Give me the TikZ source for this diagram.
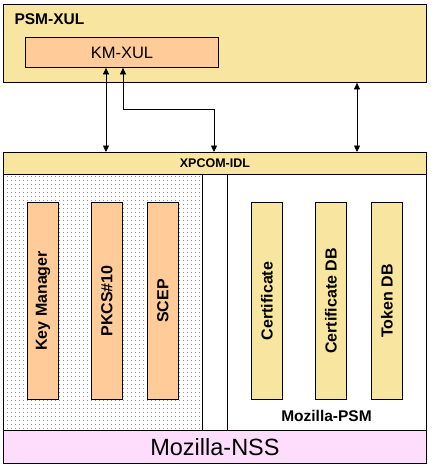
\documentclass[tikz,border=0pt]{standalone}
\usepackage{fontspec}
\setmainfont{Liberation Sans}
\usetikzlibrary{arrows.meta,patterns.meta,calc}
\definecolor{khaki}{HTML}{F8E6A0}
\definecolor{peach}{HTML}{FFCC99}
\definecolor{lilac}{HTML}{FDDCFC}
\tikzset{
  box/.style={draw=black, line width=0.9pt, inner sep=0pt, anchor=north west},
  bar/.style={box, minimum width=31pt, minimum height=197pt},
  barlabel/.style={rotate=90, font=\fontsize{16}{18}\selectfont\bfseries},
  dbl/.style={line width=0.7pt, {Triangle[width=6pt,length=6.5pt]}-{Triangle[width=6pt,length=6.5pt]}}
}
\begin{document}
\begin{tikzpicture}[x=1pt,y=-1pt]
\useasboundingbox (0,0) rectangle (434,468);
% top box
\node[box, fill=khaki, minimum width=423pt, minimum height=78pt] (psmxul) at (3,4) {};
\node[anchor=west, font=\fontsize{15.5}{17}\selectfont\bfseries] (psmxullbl) at (11,19.5) {PSM-XUL};
\node[box, fill=peach, minimum width=193pt, minimum height=30pt] (kmxul) at (25,37) {};
\node[font=\fontsize{16.5}{18}\selectfont] (kmxullbl) at (kmxul.center) {KM-XUL};
% XPCOM bar
\node[box, fill=khaki, minimum width=423pt, minimum height=22pt] (xpcom) at (3,152) {};
\node[font=\fontsize{12.5}{14}\selectfont\bfseries] (xpcomlbl) at (xpcom.center) {XPCOM-IDL};
% main region
\node[box, fill=white, minimum width=423pt, minimum height=256pt] (main) at (3,174) {};
\node[box, line width=0.5pt, pattern={Dots[distance=4pt,radius=0.4pt]}, minimum width=199pt, minimum height=256pt] (km) at (3,174) {};
\node[box, minimum width=199pt, minimum height=256pt] (psm) at (227,174) {};
\node[font=\fontsize{15.5}{17}\selectfont\bfseries] (psmlbl) at (326.5,415.5) {Mozilla-PSM};
% NSS
\node[box, fill=lilac, minimum width=423pt, minimum height=33pt] (nss) at (3,430) {};
\node[font=\fontsize{23.5}{26}\selectfont] (nsslbl) at (nss.center) {Mozilla-NSS};
% bars
\node[bar, fill=peach] (keymgr) at (27,202) {};
\node[barlabel] at (keymgr.center) {Key Manager};
\node[bar, fill=peach] (pkcs) at (91,202) {};
\node[barlabel] at (pkcs.center) {PKCS\#10};
\node[bar, fill=peach] (scep) at (147,202) {};
\node[barlabel] at (scep.center) {SCEP};
\node[bar, fill=khaki] (cert) at (251,202) {};
\node[barlabel] at (cert.center) {Certificate};
\node[bar, fill=khaki] (certdb) at (315,202) {};
\node[barlabel] at (certdb.center) {Certificate DB};
\node[bar, fill=khaki] (tokdb) at (371,202) {};
\node[barlabel] at (tokdb.center) {Token DB};
% arrows
\coordinate (a1) at ($(kmxul.south west)+(81,0)$);
\draw[dbl] (a1) -- (a1 |- xpcom.north);
\coordinate (a2) at ($(kmxul.south west)+(98,0)$);
\coordinate (a2t) at ($(xpcom.north west)+(211,0)$);
\draw[dbl] (a2) -- (a2 |- 0,109) -| (a2t);
\coordinate (a3) at ($(psmxul.south west)+(354,0)$);
\draw[dbl] (a3) -- (a3 |- xpcom.north);
\end{tikzpicture}
\end{document}
